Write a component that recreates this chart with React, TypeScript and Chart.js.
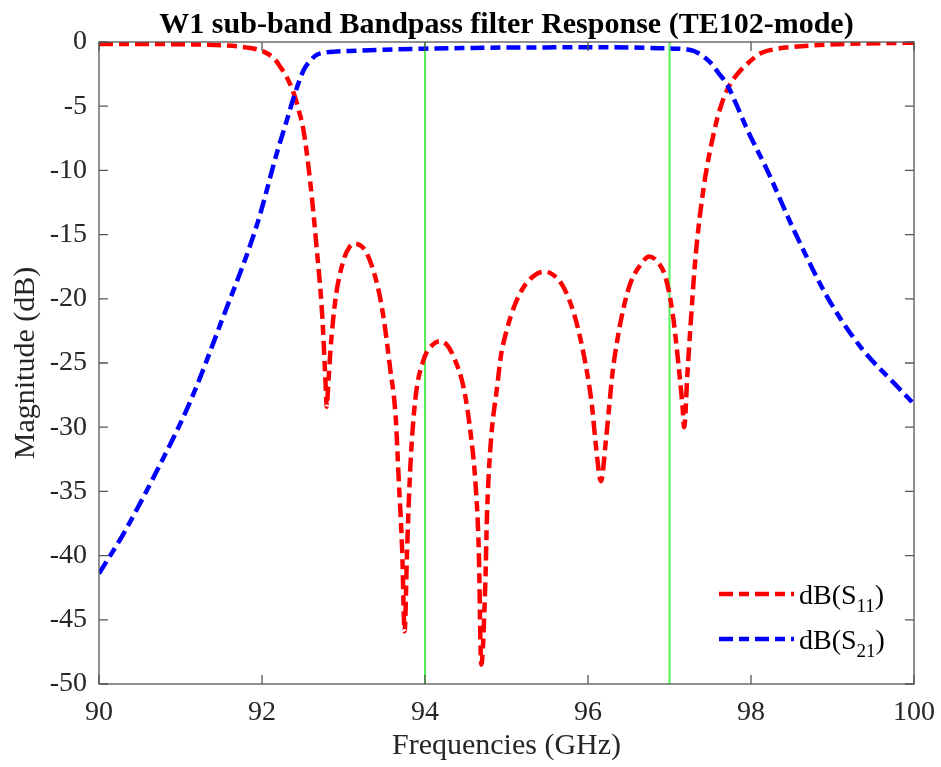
import React, { useEffect, useRef } from 'react';
import { Chart, registerables } from 'chart.js';

Chart.register(...registerables);

const TITLE = 'W1 sub-band Bandpass filter Response (TE102-mode)';
const X_LABEL = 'Frequencies (GHz)';
const Y_LABEL = 'Magnitude (dB)';

const X_MIN = 90;
const X_MAX = 100;
const Y_MIN = -50;
const Y_MAX = 0;
const X_TICKS = [90, 92, 94, 96, 98, 100];
const Y_TICKS = [0, -5, -10, -15, -20, -25, -30, -35, -40, -45, -50];

const S11_FREQ = [
  90.0, 90.5, 91.0, 91.5, 91.8, 92.02, 92.15, 92.22, 92.3, 92.39, 92.45, 92.51, 92.59, 92.67, 92.74, 92.78,
  92.795, 92.81, 92.84, 92.9, 93.0, 93.07, 93.14, 93.22, 93.29, 93.41, 93.49, 93.57, 93.64, 93.68, 93.72,
  93.75, 93.78, 93.82, 93.88, 93.98, 94.09, 94.19, 94.27, 94.35, 94.48, 94.56, 94.62, 94.66, 94.69, 94.74,
  94.76, 94.8, 94.89, 94.93, 95.0, 95.1, 95.2, 95.3, 95.45, 95.54, 95.7, 95.83, 95.91, 95.99, 96.05, 96.09,
  96.16, 96.22, 96.26, 96.3, 96.36, 96.44, 96.52, 96.65, 96.75, 96.85, 96.95, 97.04, 97.1, 97.16, 97.18,
  97.22, 97.26, 97.32, 97.42, 97.55, 97.63, 97.71, 97.82, 97.92, 98.12, 98.3, 98.53, 99.14, 100.0,
];
const S11_DB = [
  -0.15, -0.15, -0.18, -0.25, -0.42, -0.75, -1.3, -1.9, -2.7, -4.0, -5.3, -6.9, -10.8, -16.0, -21.4, -26.6,
  -28.4, -27.0, -24.0, -20.1, -17.0, -16.0, -15.7, -15.9, -16.5, -18.8, -21.4, -25.3, -29.2, -34.4, -39.6,
  -45.9, -39.6, -33.1, -27.9, -24.8, -23.6, -23.3, -23.6, -24.5, -27.1, -30.5, -34.4, -39.6, -48.5, -42.2,
  -37.0, -31.8, -26.6, -24.5, -22.5, -20.5, -19.2, -18.4, -17.9, -18.0, -19.1, -21.2, -23.2, -25.8, -28.4, -31.0,
  -34.2, -31.0, -28.4, -25.8, -23.2, -20.6, -18.8, -17.3, -16.7, -17.1, -18.3, -21.2, -24.5, -28.4, -30.0,
  -25.8, -21.9, -16.7, -11.3, -6.9, -5.0, -3.7, -2.6, -1.9, -0.88, -0.55, -0.37, -0.16, -0.05,
];

const S21_FREQ = [
  90.0, 90.3, 90.71, 91.12, 91.5, 91.94, 92.18, 92.3, 92.39, 92.51, 92.6, 92.67, 92.78, 92.88, 93.08, 93.5,
  94.0, 94.5, 95.0, 95.5, 96.0, 96.5, 96.89, 97.1, 97.22, 97.3, 97.4, 97.51, 97.6, 97.71, 97.83, 97.96,
  98.2, 98.53, 98.94, 99.35, 99.76, 100.0,
];
const S21_DB = [
  -41.4, -38.3, -33.4, -28.0, -21.8, -14.2, -8.7, -6.2, -4.3, -2.2, -1.4, -1.0, -0.82, -0.75, -0.7, -0.6,
  -0.52, -0.47, -0.43, -0.42, -0.4, -0.43, -0.48, -0.52, -0.58, -0.7, -1.05, -1.66, -2.4, -3.35, -5.0, -6.9,
  -10.0, -14.7, -19.9, -23.8, -26.6, -28.2,
];

const MARKER_FREQ = [94, 97];

const LEGEND_ITEMS = [
  { main: 'dB(S', sub: '11', tail: ')' },
  { main: 'dB(S', sub: '21', tail: ')' },
];

const SERIF = '"Liberation Serif", "Times New Roman", serif';
const AXIS_COLOR = '#262626';

const decorPlugin = {
  id: 'decor',
  afterDatasetsDraw(chart: any) {
    const { ctx, chartArea: a, scales } = chart;
    const xs = scales.x;
    const ys = scales.y;
    ctx.save();
    // frame
    ctx.strokeStyle = '#555555';
    ctx.lineWidth = 1.3;
    ctx.strokeRect(a.left, a.top, a.right - a.left, a.bottom - a.top);
    // inward ticks on all sides
    const TL = 9;
    ctx.beginPath();
    for (const v of X_TICKS) {
      const px = xs.getPixelForValue(v);
      ctx.moveTo(px, a.bottom);
      ctx.lineTo(px, a.bottom - TL);
      ctx.moveTo(px, a.top);
      ctx.lineTo(px, a.top + TL);
    }
    for (const v of Y_TICKS) {
      const py = ys.getPixelForValue(v);
      ctx.moveTo(a.left, py);
      ctx.lineTo(a.left + TL, py);
      ctx.moveTo(a.right, py);
      ctx.lineTo(a.right - TL, py);
    }
    ctx.stroke();

    // title
    ctx.fillStyle = '#000000';
    ctx.font = `bold 30px ${SERIF}`;
    ctx.textAlign = 'center';
    ctx.textBaseline = 'alphabetic';
    ctx.fillText(TITLE, (a.left + a.right) / 2, 33);

    // legend
    const lineX0 = a.right - 195;
    const lineX1 = a.right - 120;
    const textX = a.right - 115;
    const rows = [a.bottom - 90, a.bottom - 45];
    LEGEND_ITEMS.forEach((item, i) => {
      const ds = chart.data.datasets[i];
      const y = rows[i];
      ctx.save();
      ctx.strokeStyle = ds.borderColor;
      ctx.lineWidth = ds.borderWidth;
      ctx.setLineDash(ds.borderDash || []);
      ctx.beginPath();
      ctx.moveTo(lineX0, y);
      ctx.lineTo(lineX1, y);
      ctx.stroke();
      ctx.restore();
      ctx.fillStyle = '#000000';
      ctx.textAlign = 'left';
      ctx.textBaseline = 'alphabetic';
      const base = y + 9.5;
      ctx.font = `28px ${SERIF}`;
      ctx.fillText(item.main, textX, base);
      let x = textX + ctx.measureText(item.main).width;
      ctx.font = `19px ${SERIF}`;
      ctx.fillText(item.sub, x, base + 8);
      x += ctx.measureText(item.sub).width;
      ctx.font = `28px ${SERIF}`;
      ctx.fillText(item.tail, x, base);
    });
    ctx.restore();
  },
};

export default function App() {
  const canvasRef = useRef<HTMLCanvasElement | null>(null);

  useEffect(() => {
    const canvas = canvasRef.current;
    if (!canvas) return;
    const s11 = S11_FREQ.map((f, i) => ({ x: f, y: S11_DB[i] }));
    const s21 = S21_FREQ.map((f, i) => ({ x: f, y: S21_DB[i] }));
    const markers = MARKER_FREQ.map((f) => ({
      label: `marker ${f}`,
      data: [
        { x: f, y: Y_MAX },
        { x: f, y: Y_MIN },
      ],
      borderColor: '#55f055',
      borderWidth: 2,
      pointRadius: 0,
      tension: 0,
      order: 10,
    }));

    const chart = new Chart(canvas, {
      type: 'line',
      data: {
        datasets: [
          {
            label: 'dB(S11)',
            data: s11,
            borderColor: '#ff0000',
            borderWidth: 4.5,
            borderDash: [14, 6, 10, 6],
            pointRadius: 0,
            cubicInterpolationMode: 'monotone',
            order: 2,
          },
          {
            label: 'dB(S21)',
            data: s21,
            borderColor: '#0000ff',
            borderWidth: 4.5,
            borderDash: [14, 6, 10, 6],
            pointRadius: 0,
            cubicInterpolationMode: 'monotone',
            order: 1,
          },
          ...markers,
        ] as any,
      },
      options: {
        responsive: true,
        maintainAspectRatio: false,
        animation: false,
        layout: { padding: { top: 42, right: 27, left: 0, bottom: 0 } },
        plugins: {
          legend: { display: false },
          tooltip: { enabled: false },
          title: { display: false },
        },
        scales: {
          x: {
            type: 'linear',
            min: X_MIN,
            max: X_MAX,
            afterFit: (s: any) => {
              s.height = 83;
              s.paddingLeft = 0;
              s.paddingRight = 0;
            },
            afterBuildTicks: (s: any) => {
              s.ticks = X_TICKS.map((v) => ({ value: v }));
            },
            grid: { display: false, drawTicks: false, tickLength: 0 },
            border: { display: false },
            ticks: {
              font: { family: SERIF, size: 28 },
              color: AXIS_COLOR,
              padding: 12,
              maxRotation: 0,
              autoSkip: false,
            },
            title: {
              display: true,
              text: X_LABEL,
              font: { family: SERIF, size: 30 },
              color: AXIS_COLOR,
              padding: { top: 0, bottom: 3 },
            },
          },
          y: {
            type: 'linear',
            min: Y_MIN,
            max: Y_MAX,
            afterFit: (s: any) => {
              s.width = 99;
              s.paddingTop = 0;
              s.paddingBottom = 0;
            },
            afterBuildTicks: (s: any) => {
              s.ticks = Y_TICKS.map((v) => ({ value: v }));
            },
            grid: { display: false, drawTicks: false, tickLength: 0 },
            border: { display: false },
            ticks: {
              font: { family: SERIF, size: 28 },
              color: AXIS_COLOR,
              padding: 12,
              autoSkip: false,
            },
            title: {
              display: true,
              text: Y_LABEL,
              font: { family: SERIF, size: 30 },
              color: AXIS_COLOR,
              padding: { top: 8, bottom: 0 },
            },
          },
        },
      } as any,
      plugins: [decorPlugin],
    });
    return () => chart.destroy();
  }, []);

  return (
    <div style={{ position: 'absolute', left: 0, top: 0, width: 941, height: 767, background: '#ffffff' }}>
      <canvas ref={canvasRef} />
    </div>
  );
}
